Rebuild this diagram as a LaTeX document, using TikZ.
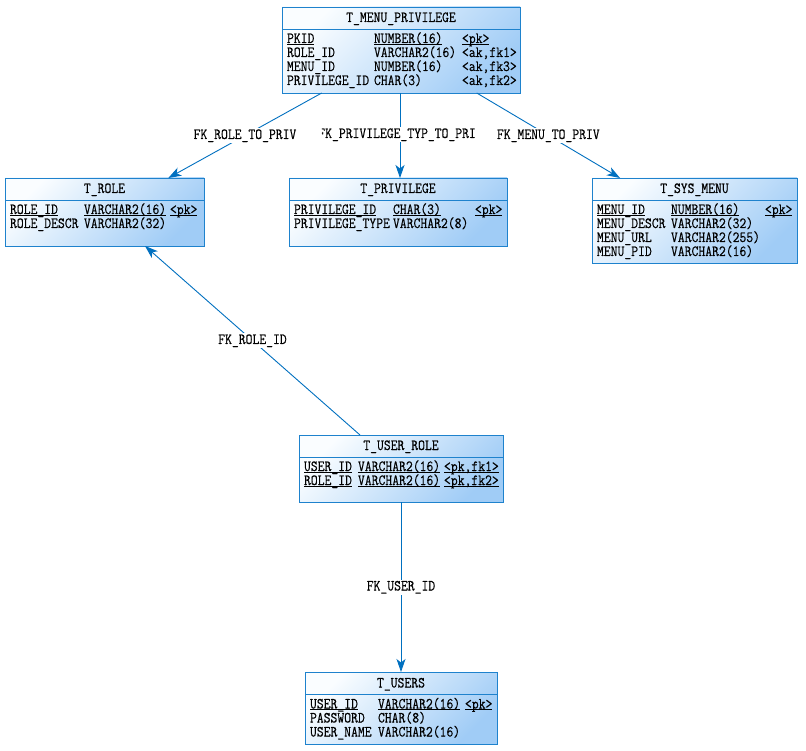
\documentclass[tikz,border=0pt]{standalone}
\usepackage{fontspec}
\newfontfamily\tabfont[FakeStretch=0.858,FakeBold=0.4]{Latin Modern Mono}
\usetikzlibrary{arrows.meta,calc}
\definecolor{connc}{RGB}{0,112,192}
\definecolor{bordc}{RGB}{30,130,205}
\definecolor{fillA}{RGB}{250,253,255}
\definecolor{fillB}{RGB}{160,204,246}
\newcommand{\tfont}{\tabfont\fontsize{15.5}{14}\selectfont}
\tikzset{
  tbl/.style={draw=bordc, line width=0.9pt, rectangle, inner sep=0pt, outer sep=0pt, anchor=north west, top color=fillA, bottom color=fillB, shading angle=45},
  sepline/.style={draw=bordc, line width=0.9pt},
  cell/.style={anchor=base west, inner sep=0pt, outer sep=0pt, font=\tfont},
  ttl/.style={anchor=base, inner sep=0pt, outer sep=0pt, font=\tfont},
  ulin/.style={draw=black, line width=0.8pt},
  conn/.style={draw=connc, line width=0.9pt, -{Stealth[length=13pt,width=9pt,inset=3.5pt]}},
  lbl/.style={fill=white, inner sep=1pt, font=\tfont, text height=10pt, text depth=3pt},
}
\newcommand{\tcell}[4]{\node[cell] (#1) at (#2,#3) {#4};}
\newcommand{\ucell}[4]{\node[cell] (#1) at (#2,#3) {#4};
  \draw[ulin] ([yshift=-1.3pt]#1.base west) -- ([yshift=-1.3pt]#1.base east);}
\begin{document}
\begin{tikzpicture}[x=1pt,y=-1pt]
\useasboundingbox[fill=white] (0,0) rectangle (806,751);

% ---------- T_MENU_PRIVILEGE
\node[tbl, minimum width=238pt, minimum height=86pt] (mp) at (282,7) {};
\draw[sepline] ($(mp.north west)+(0,22)$) -- ($(mp.north east)+(0,22)$);
\node[ttl] (mpt) at (401,22) {T\_MENU\_PRIVILEGE};
\ucell{mp1a}{287}{43}{PKID}\ucell{mp1b}{374}{43}{NUMBER(16)}\ucell{mp1c}{462}{43}{<pk>}
\tcell{mp2a}{287}{57}{ROLE\_ID}\tcell{mp2b}{374}{57}{VARCHAR2(16)}\tcell{mp2c}{462}{57}{<ak,fk1>}
\tcell{mp3a}{287}{71}{MENU\_ID}\tcell{mp3b}{374}{71}{NUMBER(16)}\tcell{mp3c}{462}{71}{<ak,fk3>}
\tcell{mp4a}{287}{85}{PRIVILEGE\_ID}\tcell{mp4b}{374}{85}{CHAR(3)}\tcell{mp4c}{462}{85}{<ak,fk2>}

% ---------- T_ROLE
\node[tbl, minimum width=199pt, minimum height=68pt] (role) at (5,178) {};
\draw[sepline] ($(role.north west)+(0,22)$) -- ($(role.north east)+(0,22)$);
\node[ttl] (rolet) at (104.5,193) {T\_ROLE};
\ucell{ro1a}{10}{214}{ROLE\_ID}\ucell{ro1b}{84}{214}{VARCHAR2(16)}\ucell{ro1c}{170}{214}{<pk>}
\tcell{ro2a}{10}{228}{ROLE\_DESCR}\tcell{ro2b}{84}{228}{VARCHAR2(32)}

% ---------- T_PRIVILEGE
\node[tbl, minimum width=218pt, minimum height=68pt] (priv) at (289,178) {};
\draw[sepline] ($(priv.north west)+(0,22)$) -- ($(priv.north east)+(0,22)$);
\node[ttl] (privt) at (398,193) {T\_PRIVILEGE};
\ucell{pr1a}{294}{214}{PRIVILEGE\_ID}\ucell{pr1b}{393}{214}{CHAR(3)}\ucell{pr1c}{475}{214}{<pk>}
\tcell{pr2a}{294}{228}{PRIVILEGE\_TYPE}\tcell{pr2b}{393}{228}{VARCHAR2(8)}

% ---------- T_SYS_MENU
\node[tbl, minimum width=205pt, minimum height=85pt] (sys) at (592,178) {};
\draw[sepline] ($(sys.north west)+(0,22)$) -- ($(sys.north east)+(0,22)$);
\node[ttl] (syst) at (694.5,193) {T\_SYS\_MENU};
\ucell{sy1a}{597}{214}{MENU\_ID}\ucell{sy1b}{671}{214}{NUMBER(16)}\ucell{sy1c}{765}{214}{<pk>}
\tcell{sy2a}{597}{228}{MENU\_DESCR}\tcell{sy2b}{671}{228}{VARCHAR2(32)}
\tcell{sy3a}{597}{242}{MENU\_URL}\tcell{sy3b}{671}{242}{VARCHAR2(255)}
\tcell{sy4a}{597}{256}{MENU\_PID}\tcell{sy4b}{671}{256}{VARCHAR2(16)}

% ---------- T_USER_ROLE
\node[tbl, minimum width=204pt, minimum height=67pt] (ur) at (299,435) {};
\draw[sepline] ($(ur.north west)+(0,22)$) -- ($(ur.north east)+(0,22)$);
\node[ttl] (urt) at (401,450) {T\_USER\_ROLE};
\ucell{ur1a}{304}{471}{USER\_ID}\ucell{ur1b}{358}{471}{VARCHAR2(16)}\ucell{ur1c}{444}{471}{<pk,fk1>}
\ucell{ur2a}{304}{485}{ROLE\_ID}\ucell{ur2b}{358}{485}{VARCHAR2(16)}\ucell{ur2c}{444}{485}{<pk,fk2>}

% ---------- T_USERS
\node[tbl, minimum width=192pt, minimum height=72pt] (users) at (305,672) {};
\draw[sepline] ($(users.north west)+(0,22)$) -- ($(users.north east)+(0,22)$);
\node[ttl] (userst) at (401,687.5) {T\_USERS};
\ucell{us1a}{310}{708.5}{USER\_ID}\ucell{us1b}{378}{708.5}{VARCHAR2(16)}\ucell{us1c}{465}{708.5}{<pk>}
\tcell{us2a}{310}{722.5}{PASSWORD}\tcell{us2b}{378}{722.5}{CHAR(8)}
\tcell{us3a}{310}{736.5}{USER\_NAME}\tcell{us3b}{378}{736.5}{VARCHAR2(16)}

% ---------- connectors
\draw[conn] ([xshift=39.7pt]mp.south west) -- node[lbl] (l1) {FK\_ROLE\_TO\_PRIV} ([xshift=163.3pt]role.north west);
\draw[conn] ([xshift=118pt]mp.south west) -- ([xshift=111pt]priv.north west);
\node[lbl, minimum width=153.5pt] (l2) at (398.75,134.5) {};
\begin{scope}
  \clip (l2.south west) rectangle (l2.north east);
  \node[lbl, fill=none] (l2t) at (400.5,134.5) {FK\_PRIVILEGE\_TYP\_TO\_PRIV};
\end{scope}
\draw[conn] ([xshift=194.7pt]mp.south west) -- node[lbl] (l3) {FK\_MENU\_TO\_PRIV} ([xshift=28pt]sys.north west);
\draw[conn] ([xshift=61pt]ur.north west) -- node[lbl] (l4) {FK\_ROLE\_ID} ([xshift=140pt]role.south west);
\draw[conn] ([xshift=102pt]ur.south west) -- node[lbl] (l5) {FK\_USER\_ID} ([xshift=96pt]users.north west);
\end{tikzpicture}
\end{document}
